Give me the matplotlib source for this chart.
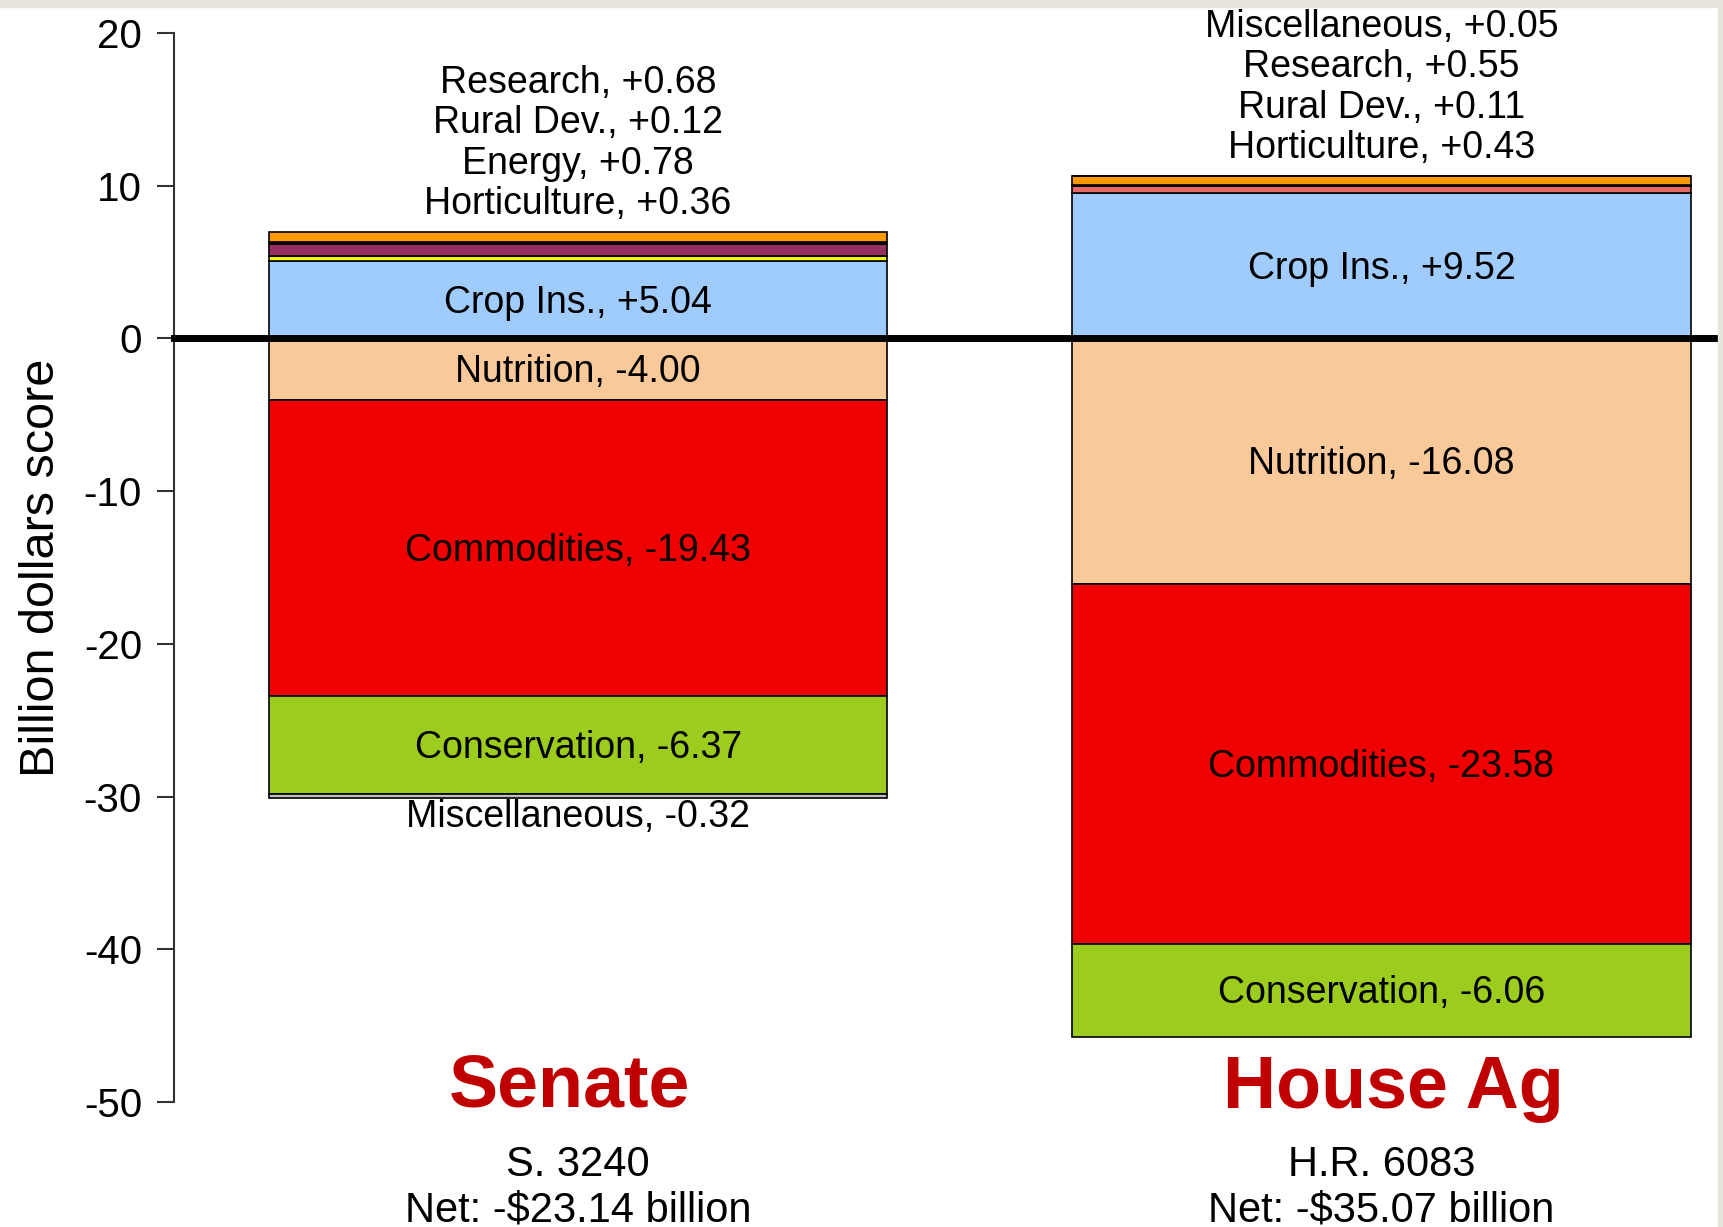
import matplotlib
matplotlib.use("Agg")
import matplotlib.pyplot as plt
from matplotlib.patches import Rectangle

plt.rcParams['font.family'] = ['Liberation Sans', 'DejaVu Sans']

# ---- data ----
bills = ["Senate", "House Ag"]
bill_numbers = ["S. 3240", "H.R. 6083"]
net_totals = [-23.14, -35.07]

senate_names = ["Crop Ins.", "Horticulture", "Energy", "Rural Dev.", "Research",
                "Nutrition", "Commodities", "Conservation", "Miscellaneous"]
senate_values = [5.04, 0.36, 0.78, 0.12, 0.68, -4.00, -19.43, -6.37, -0.32]

house_names = ["Crop Ins.", "Horticulture", "Rural Dev.", "Research", "Miscellaneous",
               "Nutrition", "Commodities", "Conservation"]
house_values = [9.52, 0.43, 0.11, 0.55, 0.05, -16.08, -23.58, -6.06]

yticks = [20, 10, 0, -10, -20, -30, -40, -50]

# ---- style ----
senate_colors = ["#a0cbfd", "#f2f20a", "#963062", "#222222", "#ff9900",
                 "#f9c99a", "#f00000", "#9ccc1e", "#c0c0c0"]
house_colors = ["#a0cbfd", "#e46a6a", "#222222", "#ff9900", "#ff9900",
                "#f9c99a", "#f00000", "#9ccc1e"]

W, H = 1723, 1227
fig = plt.figure(figsize=(W / 100, H / 100), dpi=100)
fig.patch.set_facecolor("white")
beige = "#e8e4dc"
fig.patches.append(Rectangle((0, 1 - 7 / H), 1, 7 / H, transform=fig.transFigure,
                             color=beige, zorder=0))
fig.patches.append(Rectangle((1718 / W, 0), 5 / W, 1, transform=fig.transFigure,
                             color=beige, zorder=0))

ax_left, ax_right = 174 / W, 1718 / W
ax_top, ax_bot = 1 - 33 / H, 1 - 1102 / H
ax = fig.add_axes([ax_left, ax_bot, ax_right - ax_left, ax_top - ax_bot])
ax.set_xlim(-0.503, 1.419)
ax.set_ylim(-50, 20)
ax.patch.set_alpha(0)

width = 0.77
label_fs = 27
outside_step = 2.65
dy = -0.2

for i, (names, vals, cols) in enumerate([(senate_names, senate_values, senate_colors),
                                         (house_names, house_values, house_colors)]):
    pos_base, neg_base = 0.0, 0.0
    above = []
    below = []
    for n, v, c in zip(names, vals, cols):
        if v >= 0:
            bottom = pos_base
            pos_base += v
        else:
            bottom = neg_base + v
            neg_base += v
        ax.bar(i, v if v >= 0 else -v, bottom=bottom, width=width, color=c,
               edgecolor="black", linewidth=1.2, zorder=2)
        lab = f"{n}, {v:+.2f}"
        if abs(v) >= 1:
            ax.text(i, bottom + abs(v) / 2 + dy, lab, ha="center", va="center",
                    fontsize=label_fs, color="black", zorder=4)
        elif v >= 0:
            above.append(lab)
        else:
            below.append(lab)
    for k, lab in enumerate(above):
        ax.text(i, pos_base + 1.8 + outside_step * k, lab, ha="center", va="center",
                fontsize=label_fs, color="black", clip_on=False, zorder=4)
    for k, lab in enumerate(below):
        ax.text(i, neg_base - 1.2 - outside_step * k, lab, ha="center", va="center",
                fontsize=label_fs, color="black", clip_on=False, zorder=4)

    ax.text(i - 0.01 + 0.025 * i, -49.1, bills[i], ha="center", va="center", fontsize=53,
            fontweight="bold", color="#c00000", clip_on=False, zorder=4)
    ax.text(i, -54.1, bill_numbers[i], ha="center", va="center", fontsize=30,
            color="black", clip_on=False)
    ax.text(i, -57.1, f"Net: -${abs(net_totals[i]):.2f} billion", ha="center",
            va="center", fontsize=30, color="black", clip_on=False)

ax.axhline(0, color="black", linewidth=5, zorder=3, xmax=1.01, clip_on=False)

for s in ["top", "right", "bottom"]:
    ax.spines[s].set_visible(False)
ax.spines["left"].set_bounds(-50, 20)
ax.spines["left"].set_linewidth(1.5)
ax.spines["left"].set_color("#333333")
ax.set_xticks([])
ax.set_yticks(yticks)
ax.set_yticklabels([str(t) for t in yticks])
ax.tick_params(axis="y", length=12, width=1.5, pad=11, labelsize=29, color="#333333")
ax.set_ylabel("Billion dollars score", fontsize=35, labelpad=14)

fig.savefig("out.png", dpi=100)
